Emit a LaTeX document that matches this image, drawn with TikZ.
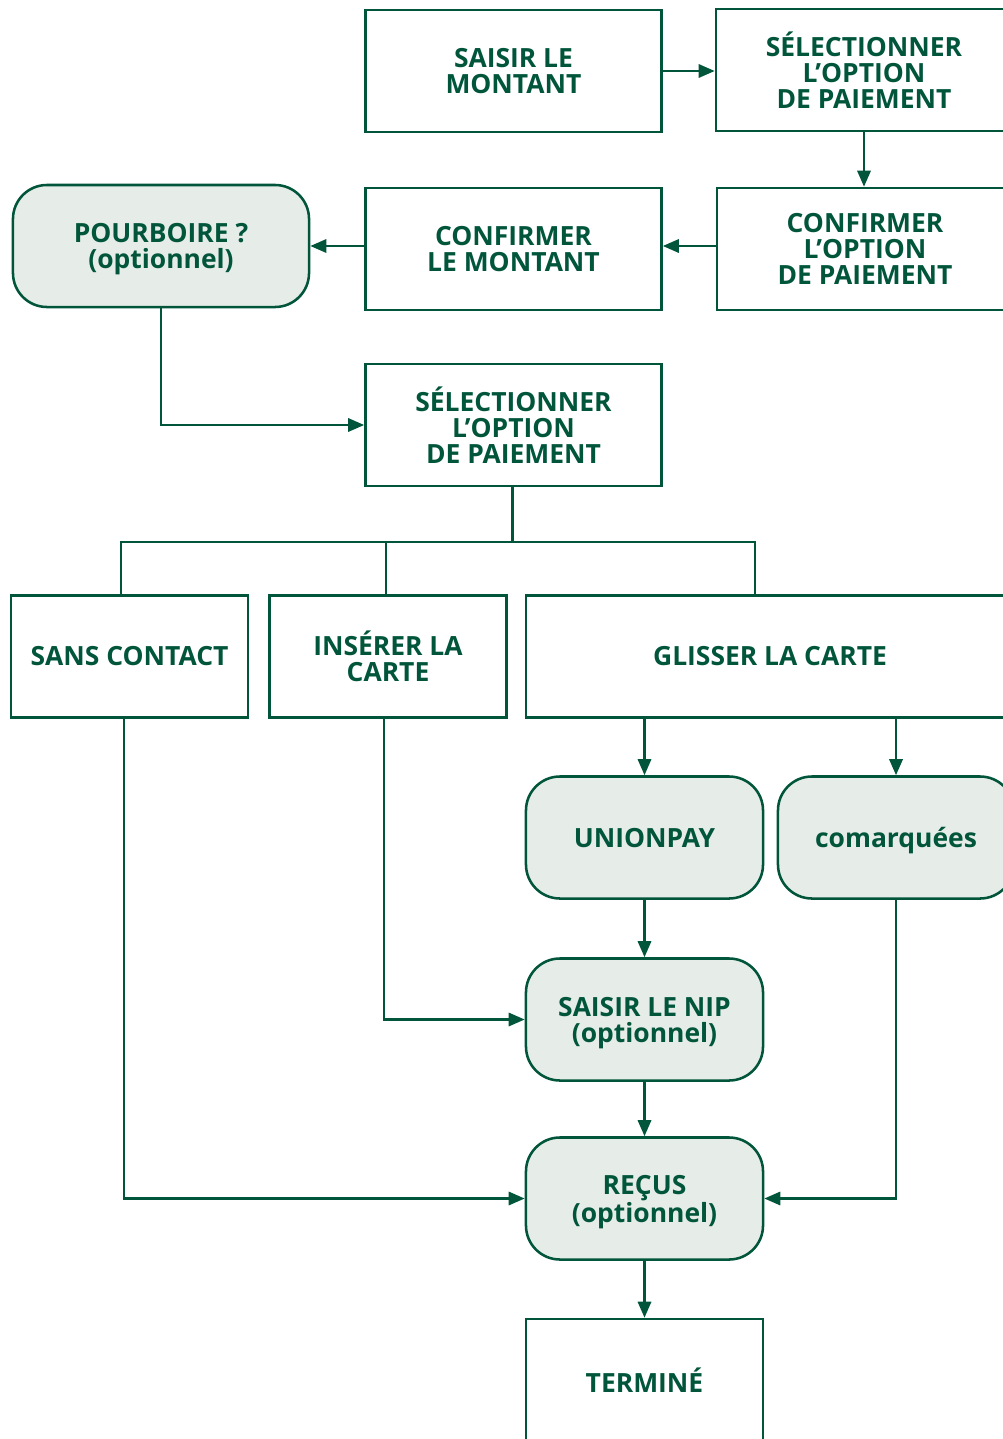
\documentclass[tikz,border=0pt]{standalone}
\usepackage{fontspec}
\setmainfont{Open Sans}
\usepackage{tikz}
\usetikzlibrary{arrows.meta}
\usetikzlibrary{positioning}
\definecolor{dkgreen}{HTML}{00553A}
\definecolor{palegreen}{HTML}{E6ECE8}

\begin{document}
\begin{tikzpicture}[x=0.025cm, y=-0.025cm,
    stepbox/.style={draw=dkgreen, line width=1.8pt, text=dkgreen, align=center,
        inner sep=0pt, minimum width=7.4cm, minimum height=3.05cm,
        font=\fontsize{18.8}{18.6}\selectfont\bfseries},
    smallbox/.style={stepbox, minimum width=5.925cm},
    optbox/.style={smallbox, fill=palegreen, rounded corners=0.85cm, text depth=0pt},
    flow/.style={draw=dkgreen, line width=1.8pt, -{Triangle[length=4mm,width=3.3mm]}},
    link/.style={draw=dkgreen, line width=1.8pt}]
    \useasboundingbox (0,0) rectangle (1003,1439);
    % top row
    \node[stepbox] (amount) at (513.5,71) {SAISIR LE\\MONTANT};
    \node[stepbox] (choose) at (864,70) {SÉLECTIONNER\\L’OPTION\\DE PAIEMENT};
    % second row, right to left
    \node[stepbox] (confopt) at (865,249) {CONFIRMER\\L’OPTION\\DE PAIEMENT};
    \node[stepbox] (confamt) at (513.5,249) {CONFIRMER\\LE MONTANT};
    \node[optbox, minimum width=7.4cm] (tip) at (161,246) {POURBOIRE ?\\(optionnel)};
    % payment option
    \node[stepbox] (paysel) at (513.5,425) {SÉLECTIONNER\\L’OPTION\\DE PAIEMENT};
    % card choices
    \node[smallbox] (tap) at (129.5,656.5) {SANS CONTACT};
    \node[smallbox] (insert) at (388,656.5) {INSÉRER LA\\CARTE};
    \node[stepbox, minimum width=12.2cm] (swipe) at (770,656.5) {GLISSER LA CARTE};
    \node[optbox] (union) at (644.5,837.5) {UNIONPAY};
    \node[optbox, minimum width=5.9cm] (cobrand) at (896,837.5) {comarquées};
    % end of the flow
    \node[optbox] (pin) at (644.5,1019.5) {SAISIR LE NIP\\(optionnel)};
    \node[optbox] (receipt) at (644.5,1198.5) {REÇUS\\(optionnel)};
    \node[smallbox] (done) at (644.5,1380) {TERMINÉ};
    % bus under the payment option
    \coordinate (bus) at (512.5,542);

    \draw[flow] (amount) -- (amount -| choose.west);
    \draw[flow] (choose.south) -- (choose.south |- confopt.north);
    \draw[flow] (confopt.west |- tip) -- (confamt.east |- tip);
    \draw[flow] (confamt.west |- tip) -- (tip);
    \draw[flow] (tip.south) |- (paysel.west);
    % split into the three card choices
    \draw[link] (paysel.south -| bus) -- (bus);
    \draw[link] ([xshift=-0.2125cm]tap.north) |- ([xshift=-0.375cm]swipe.north |- bus)
        -- ([xshift=-0.375cm]swipe.north);
    \draw[link] ([xshift=-0.05cm]insert.north) -- ([xshift=-0.05cm]insert.north |- bus);
    % swipe branches
    \draw[flow] (swipe.south -| union) -- (union);
    \draw[flow] (swipe.south -| cobrand) -- (cobrand);
    \draw[flow] (union) -- (pin);
    \draw[flow] ([xshift=-0.1cm]insert.south) |- (pin.west);
    \draw[flow] (pin) -- (receipt);
    \draw[flow] ([xshift=-0.1375cm]tap.south) |- (receipt.west);
    \draw[flow] (cobrand.south) |- (receipt.east);
    \draw[flow] (receipt) -- (done);
\end{tikzpicture}
\end{document}
